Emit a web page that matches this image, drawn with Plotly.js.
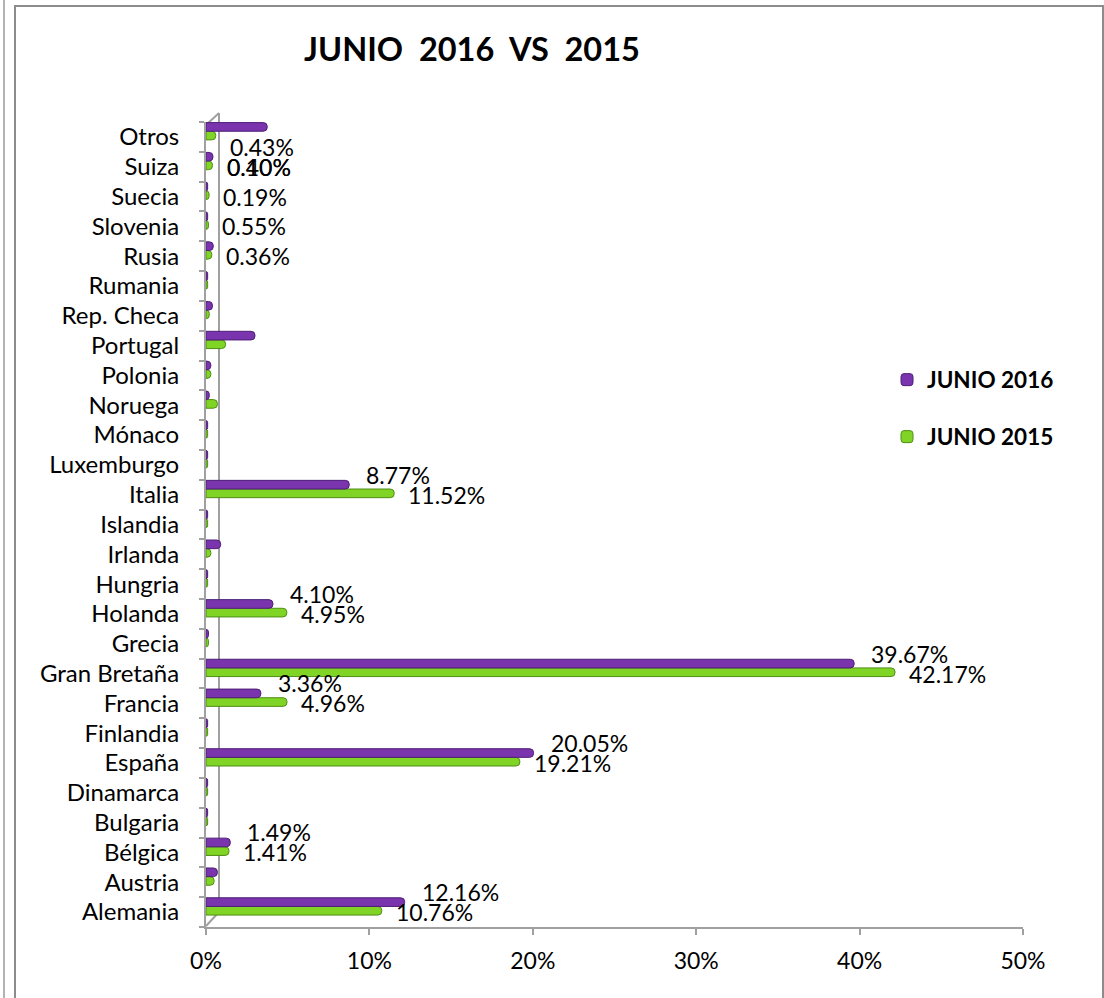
<!DOCTYPE html>
<html>
<head>
<meta charset="utf-8">
<script src="https://cdn.plot.ly/plotly-3.0.1.min.js"></script>
<style>
  html, body { margin: 0; padding: 0; background: #ffffff; }
  #chart { width: 1104px; height: 998px; }
</style>
</head>
<body>
<div id="chart"></div>
<script>
// ---- data ----
const categories = ["Alemania","Austria","Bélgica","Bulgaria","Dinamarca","España","Finlandia","Francia","Gran Bretaña","Grecia","Holanda","Hungria","Irlanda","Islandia","Italia","Luxemburgo","Mónaco","Noruega","Polonia","Portugal","Rep. Checa","Rumania","Rusia","Slovenia","Suecia","Suiza","Otros"];
const junio2016 = [12.16, 0.7, 1.49, 0.1, 0.1, 20.05, 0.1, 3.36, 39.67, 0.15, 4.10, 0.1, 0.9, 0.1, 8.77, 0.1, 0.1, 0.2, 0.3, 3.0, 0.4, 0.1, 0.45, 0.1, 0.1, 0.43, 3.75];
const junio2015 = [10.76, 0.5, 1.41, 0.1, 0.1, 19.21, 0.1, 4.96, 42.17, 0.15, 4.95, 0.1, 0.3, 0.1, 11.52, 0.1, 0.1, 0.7, 0.3, 1.2, 0.2, 0.1, 0.36, 0.15, 0.19, 0.40, 0.6];
const labels2016 = ["12.16%","","1.49%","","","20.05%","","3.36%","39.67%","","4.10%","","","","8.77%","","","","","","","","","","","0.43%",""];
const labels2015 = ["10.76%","","1.41%","","","19.21%","","4.96%","42.17%","","4.95%","","","","11.52%","","","","","","","","0.36%","0.55%","0.19%","0.40%",""];
const extraLabels2015 = [{category: "Suiza", text: "0.10%"}];
const xTicks = [0, 10, 20, 30, 40, 50];
const seriesNames = ["JUNIO 2016", "JUNIO 2015"];
const chartTitle = "JUNIO\u00A0\u00A02016\u00A0\u00A0VS\u00A0\u00A02015";

// ---- layout geometry (pixels) ----
const W = 1104, H = 998;
const ML = 206, MR = 81, MT = 122, MB = 71;
const PW = W - ML - MR, PH = H - MT - MB;
const px = x => (x - ML) / PW;          // pixel x -> paper x
const py = y => (H - MB - y) / PH;      // pixel y -> paper y

const FONT = "Lato, 'Liberation Sans', sans-serif";
const purple = "#7A34AE", purpleEdge = "#4E1E78";
const green = "#7FD425", greenEdge = "#4F8E14";

const trace2015 = {
  type: "bar", orientation: "h", name: seriesNames[1],
  y: categories, x: junio2015,
  offset: -0.1, width: 0.29,
  marker: {color: green, line: {color: greenEdge, width: 1}, cornerradius: 4},
  legend: "legend2", hoverinfo: "x+y"
};
const trace2016 = {
  type: "bar", orientation: "h", name: seriesNames[0],
  y: categories, x: junio2016,
  offset: 0.19, width: 0.29,
  marker: {color: purple, line: {color: purpleEdge, width: 1}, cornerradius: 4},
  legend: "legend", hoverinfo: "x+y"
};

const labelFont = {family: FONT, size: 23, color: "#000000"};
const annotations = [];
categories.forEach((c, i) => {
  if (labels2016[i]) {
    annotations.push({x: junio2016[i], y: c, xref: "x", yref: "y", text: labels2016[i],
      showarrow: false, xanchor: "left", yanchor: "middle", xshift: 15, yshift: 20, font: labelFont});
  }
  if (labels2015[i]) {
    annotations.push({x: junio2015[i], y: c, xref: "x", yref: "y", text: labels2015[i],
      showarrow: false, xanchor: "left", yanchor: "middle", xshift: 12, yshift: 0, font: labelFont});
  }
});
extraLabels2015.forEach(e => {
  const i = categories.indexOf(e.category);
  annotations.push({x: junio2015[i], y: e.category, xref: "x", yref: "y", text: e.text,
    showarrow: false, xanchor: "left", yanchor: "middle", xshift: 12, yshift: 0, font: labelFont});
});

const gray = "#A0A0A0";
const shapes = [
  // chart frame
  {type: "rect", xref: "paper", yref: "paper", x0: px(15), x1: px(1103), y0: py(1003), y1: py(6),
   line: {color: "#8C8C8C", width: 2}, layer: "below"},
  // spreadsheet edge on the far left
  {type: "line", xref: "paper", yref: "paper", x0: px(4), x1: px(4), y0: py(998), y1: py(0),
   line: {color: "#9A9A9A", width: 1.5}, layer: "below"},
  // 3D wall: back vertical edge and diagonals
  {type: "line", xref: "paper", yref: "paper", x0: px(219), x1: px(219), y0: py(912), y1: py(113),
   line: {color: gray, width: 2}, layer: "below"},
  {type: "line", xref: "paper", yref: "paper", x0: px(206), x1: px(219), y0: py(125), y1: py(113),
   line: {color: gray, width: 2}, layer: "below"},
  {type: "line", xref: "paper", yref: "paper", x0: px(206), x1: px(219), y0: py(926), y1: py(912),
   line: {color: gray, width: 2}, layer: "below"}
];

const layout = {
  width: W, height: H,
  margin: {l: ML, r: MR, t: MT, b: MB, pad: 0},
  paper_bgcolor: "#ffffff", plot_bgcolor: "rgba(0,0,0,0)",
  font: {family: FONT, size: 20, color: "#000000"},
  title: {text: chartTitle, font: {family: FONT, size: 32.5, color: "#000000", weight: "bold"},
          x: 472 / W, xanchor: "center", xref: "container",
          y: 1 - 50 / H, yanchor: "middle", yref: "container"},
  barmode: "overlay",
  showlegend: true,
  legend: {x: px(887), y: py(380), xanchor: "left", yanchor: "middle",
           font: {family: FONT, size: 22.5, color: "#000000", weight: "bold"},
           bgcolor: "rgba(0,0,0,0)", borderwidth: 0},
  legend2: {x: px(887), y: py(437), xanchor: "left", yanchor: "middle",
           font: {family: FONT, size: 22.5, color: "#000000", weight: "bold"},
           bgcolor: "rgba(0,0,0,0)", borderwidth: 0},
  xaxis: {range: [0, 50], tickvals: xTicks, ticktext: xTicks.map(v => v + "%"),
          showgrid: false, zeroline: false, showline: true, linecolor: gray, linewidth: 2,
          ticks: "outside", ticklen: 6, tickwidth: 2, tickcolor: gray,
          ticklabelstandoff: 6, tickfont: {family: FONT, size: 23, color: "#000000"},
          fixedrange: true},
  yaxis: {type: "category", categoryorder: "array", categoryarray: categories,
          range: [-0.5, categories.length - 0.5],
          showgrid: false, zeroline: false, showline: true, linecolor: gray, linewidth: 2,
          ticks: "outside", tickson: "boundaries", ticklen: 5, tickwidth: 2, tickcolor: gray,
          ticklabelstandoff: 20, tickfont: {family: FONT, size: 24, color: "#000000"},
          fixedrange: true},
  annotations: annotations,
  shapes: shapes
};

Plotly.newPlot("chart", [trace2015, trace2016], layout, {displayModeBar: false, staticPlot: true});
</script>
</body>
</html>
